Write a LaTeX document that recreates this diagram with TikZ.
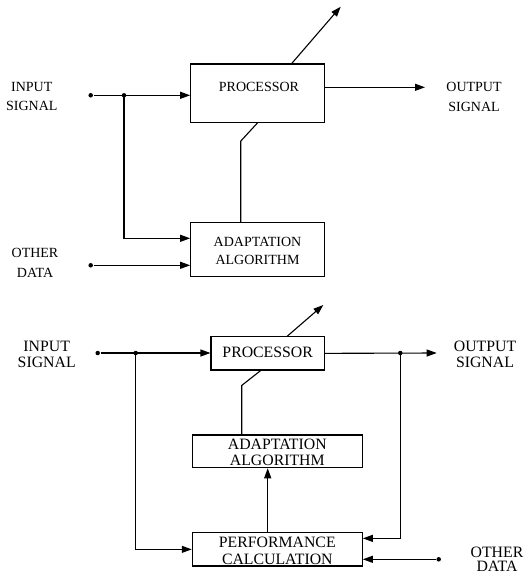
\documentclass[tikz,border=0pt]{standalone}
\usepackage{fontspec}
\setmainfont{Liberation Serif}
\usetikzlibrary{arrows.meta}
\begin{document}
\begin{tikzpicture}[x=1pt,y=-1pt,line width=1.1pt,
  box/.style={draw,rectangle,inner sep=0pt,line width=1.1pt},
  arr/.style={-{Triangle[length=10pt,width=7pt]}},
  dot/.style={circle,fill,inner sep=0pt,minimum size=4.5pt},
  ftop/.style={font=\fontsize{14}{19.5}\selectfont,align=center,inner sep=0pt},
  fbot/.style={font=\fontsize{15.8}{16}\selectfont,align=center,inner sep=0pt}]
\useasboundingbox (0,0) rectangle (523,575);

% ---------- top diagram ----------
\node[box,minimum width=133.6pt,minimum height=58.3pt] (p1) at (257.5,93.2) {};
\node[ftop] (p1t) at (259,86.7) {PROCESSOR};
\node[box,minimum width=133.6pt,minimum height=54pt] (a1) at (257.5,249.7) {};
\node[ftop,font=\fontsize{14}{18.3}\selectfont] (a1t) at (257.5,250.8) {ADAPTATION\\ALGORITHM};
\node[ftop] (lin1) at (31.8,96.7) {INPUT\\SIGNAL};
\node[ftop] (lout1) at (474,97) {OUTPUT\\SIGNAL};
\node[ftop] (lod1) at (35,262.8) {OTHER\\DATA};

\node[dot] (in1) at (90.7,95.3) {};
\node[dot] (j1) at (124,95.3) {};
\node[dot] (od1) at (90.7,265.3) {};
\coordinate (o1) at (425,87.3);
\coordinate (d1) at (340.7,6.7);

\draw[arr] (in1) -- (in1 -| p1.west);
\draw[arr] (j1.center) |- ([yshift=11.4pt]a1.west);
\draw[arr] (od1) -- (od1 -| a1.west);
\draw[arr] (p1.east |- o1) -- (o1);
\draw[arr] ([xshift=34.2pt]p1.north) -- (d1);
\draw ([xshift=-16.8pt]a1.north) -- ++(0,-81) -- (p1.south);

% ---------- bottom diagram ----------
\node[box,minimum width=113.3pt,minimum height=33.3pt] (p2) at (267.65,353.35) {};
\node[fbot] (p2t) at (267.7,352.3) {PROCESSOR};
\node[box,minimum width=170pt,minimum height=32.7pt] (a2) at (277.3,451.35) {};
\node[fbot] (a2t) at (277.3,452.3) {ADAPTATION\\ALGORITHM};
\node[box,minimum width=170pt,minimum height=33.3pt] (c2) at (277.3,549.35) {};
\node[fbot,font=\fontsize{15.8}{17}\selectfont] (c2t) at (277.3,550.8) {PERFORMANCE\\CALCULATION};
\node[fbot] (lin2) at (46.7,354.5) {INPUT\\SIGNAL};
\node[fbot] (lout2) at (485,354.5) {OUTPUT\\SIGNAL};
\node[fbot,font=\fontsize{15.8}{14.4}\selectfont] (lod2) at (497,559.5) {OTHER\\DATA};

\node[dot] (in2) at (97.7,353) {};
\node[dot] (j2) at (135.7,353) {};
\node[dot] (j3) at (400.3,353) {};
\node[dot] (od2) at (438.7,559.3) {};
\coordinate (o2) at (436.7,353);
\coordinate (d2) at (323.3,305);

\draw[arr] (in2) -- (in2 -| p2.west);
\draw[arr] (j2.center) |- (c2.west);
\draw[arr] (p2.east) -- (o2);
\draw[arr] (j3.center) |- ([yshift=11pt]c2.east);
\draw[arr] (od2) -- (od2 -| c2.east);
\draw[arr] ([xshift=-9.6pt]c2.north) -- ([xshift=-9.6pt]a2.south);
\draw ([xshift=-35.6pt]a2.north) -- ++(0,-49) -- ([xshift=-7pt]p2.south);
\draw[arr] ([xshift=19.65pt]p2.north) -- (d2);
\end{tikzpicture}
\end{document}
